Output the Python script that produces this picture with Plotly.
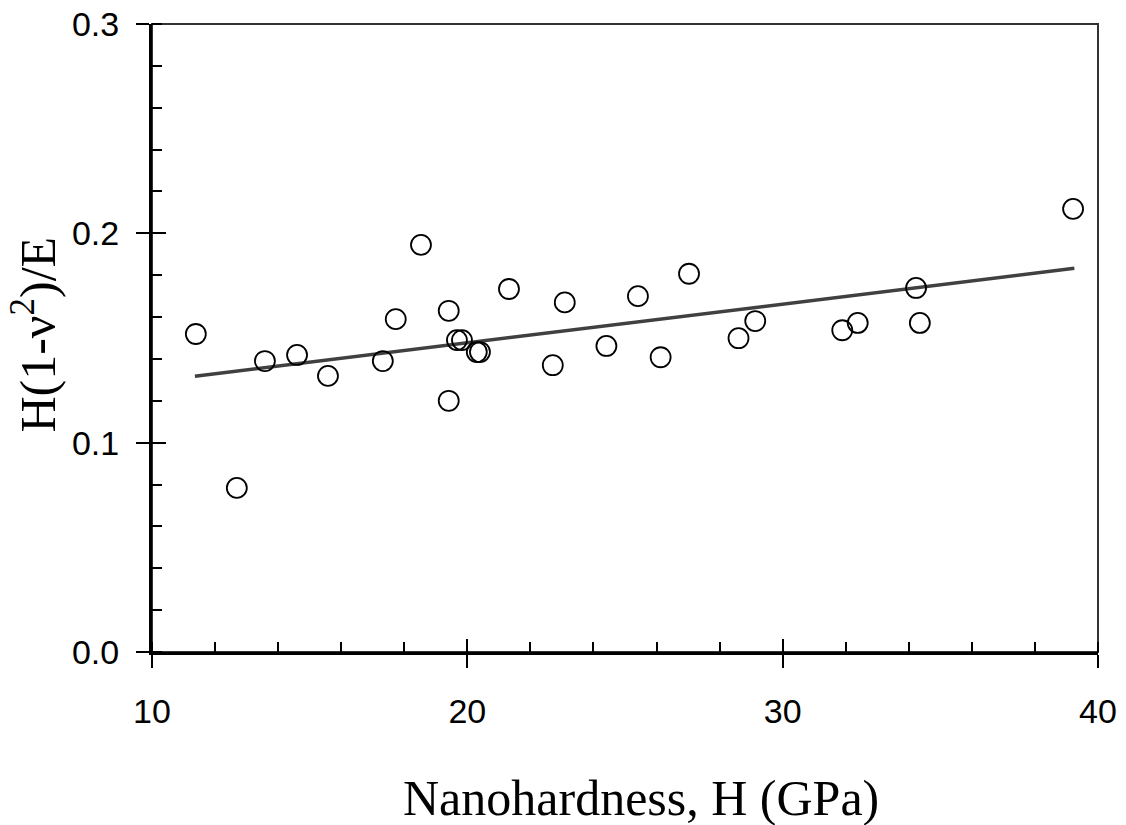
import plotly.graph_objects as go

# Data
hardness = [11.39, 12.69, 13.58, 14.60, 15.58, 17.32, 17.73, 18.53, 19.41, 19.41,
            19.67, 19.83, 20.30, 20.40, 21.32, 22.71, 23.09, 24.41, 25.41, 26.13,
            27.03, 28.60, 29.13, 31.89, 32.38, 34.23, 34.35, 39.21]
ratio = [0.1519, 0.0784, 0.1390, 0.1419, 0.1319, 0.1390, 0.1590, 0.1945, 0.1630, 0.1200,
         0.1490, 0.1490, 0.1433, 0.1433, 0.1734, 0.1370, 0.1670, 0.1462, 0.1700, 0.1408,
         0.1807, 0.1499, 0.1581, 0.1537, 0.1572, 0.1739, 0.1572, 0.2117]

fit_x = [11.36, 39.25]
fit_y = [0.1317, 0.1833]

x_major = [10, 20, 30, 40]
y_major = [0.0, 0.1, 0.2, 0.3]
y_major_text = ["0.0", "0.1", "0.2", "0.3"]

x_title = "Nanohardness, H (GPa)"
y_title = "H(1-ν<sup>2</sup>)/E"

fig = go.Figure()
fig.add_trace(go.Scatter(x=fit_x, y=fit_y, mode="lines",
                         line=dict(color="#404040", width=3.5),
                         showlegend=False, hoverinfo="skip"))
fig.add_trace(go.Scatter(x=hardness, y=ratio, mode="markers",
                         marker=dict(symbol="circle-open", size=20,
                                     color="black", line=dict(width=1.8, color="black")),
                         showlegend=False))
# invisible trace for the overlay axes (inside part of major ticks)
fig.add_trace(go.Scatter(x=[None], y=[None], xaxis="x2", yaxis="y2",
                         mode="markers", showlegend=False, hoverinfo="skip"))

tick_font = dict(family="Liberation Sans, Arial, sans-serif", size=34, color="black")

fig.update_layout(
    width=1126, height=825,
    margin=dict(l=152, r=28, t=24, b=173),
    paper_bgcolor="white", plot_bgcolor="white",
    xaxis=dict(range=[10, 40], tickvals=x_major, ticktext=[str(v) for v in x_major],
               ticks="outside", ticklen=13, tickwidth=2, tickcolor="black",
               showline=True, linewidth=3, linecolor="black", automargin=False,
               showgrid=False, zeroline=False, tickfont=tick_font,
               ticklabelstandoff=14,
               minor=dict(dtick=2, ticks="inside", ticklen=10, tickwidth=2,
                          tickcolor="black", showgrid=False)),
    yaxis=dict(range=[0, 0.3], tickvals=y_major, ticktext=y_major_text,
               ticks="outside", ticklen=13, tickwidth=2, tickcolor="black",
               showline=True, linewidth=3, linecolor="black", automargin=False,
               showgrid=False, zeroline=False, tickfont=tick_font,
               ticklabelstandoff=10,
               minor=dict(dtick=0.02, ticks="inside", ticklen=10, tickwidth=2,
                          tickcolor="black", showgrid=False)),
    xaxis2=dict(range=[10, 40], overlaying="x", anchor="y", side="bottom",
                tickvals=x_major, ticks="inside", ticklen=13, tickwidth=2,
                tickcolor="black", showticklabels=False, showline=False,
                showgrid=False, zeroline=False, automargin=False),
    yaxis2=dict(range=[0, 0.3], overlaying="y", anchor="x", side="left",
                tickvals=y_major, ticks="inside", ticklen=14, tickwidth=2,
                tickcolor="black", showticklabels=False, showline=False,
                showgrid=False, zeroline=False, automargin=False),
    shapes=[dict(type="rect", xref="paper", yref="paper", x0=0, x1=1, y0=0, y1=1,
                 line=dict(color="#333333", width=2), layer="below")],
    annotations=[
        dict(text=x_title, xref="paper", yref="paper", x=0.517, y=-0.232,
             xanchor="center", yanchor="middle", showarrow=False,
             font=dict(family="Liberation Serif, Times New Roman, serif", size=50, color="black")),
        dict(text=y_title, xref="paper", yref="paper", x=-0.124, y=0.505,
             xanchor="center", yanchor="middle", showarrow=False, textangle=-90,
             font=dict(family="Liberation Serif, Times New Roman, serif", size=50, color="black")),
    ],
)

fig.write_html("out.html")
